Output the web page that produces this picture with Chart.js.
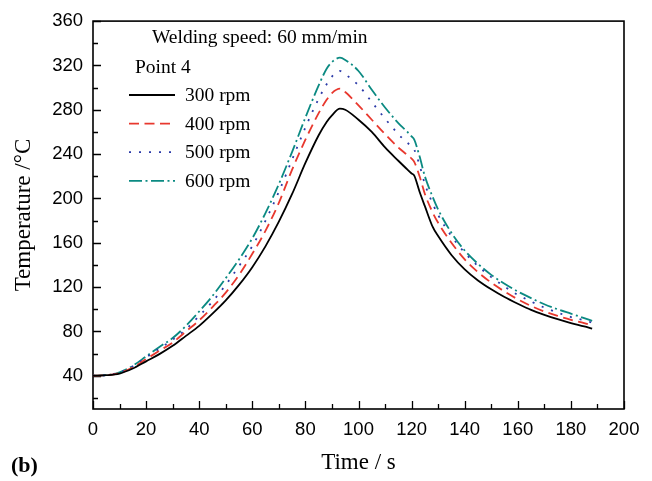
<!DOCTYPE html>
<html>
<head>
<meta charset="utf-8">
<title>Temperature vs time, point 4</title>
<script src="https://cdn.jsdelivr.net/npm/chart.js@4/dist/chart.umd.min.js"></script>
<style>
  html, body { margin: 0; padding: 0; background: #fff; }
</style>
</head>
<body>
<canvas id="chart" width="652" height="481"></canvas>
<script>
// Time grid (s) shared by all four curves
const timeS = [0, 5, 10, 15, 20, 25, 30, 35, 40, 45, 50, 55, 60, 65, 70, 75, 80, 85, 88, 90,
  93, 95, 100, 105, 110, 115, 118, 120, 121, 123, 125, 128, 130, 135, 140, 145, 150, 155, 160, 165,
  170, 175, 180, 185, 188];

// Temperatures (°C)
const temp300 = [40, 40.5, 42, 46.5, 53, 59.5, 67, 76, 85, 96, 108, 122, 138, 157, 179, 204, 232, 257, 269, 275,
  281, 280, 271, 260, 246, 234, 227, 222.5, 220.5, 206, 193, 174, 166, 149, 136, 126, 118, 111, 105, 99.5,
  95, 91, 87.5, 84.5, 82.5];
const temp400 = [40, 40.5, 42.5, 47.5, 55, 62.5, 70, 80, 90, 102, 115, 131, 150, 171, 196, 226, 253, 277, 289, 295,
  299, 296, 284, 271, 258, 246, 240, 236, 233, 220, 204, 187, 178, 160, 145, 133.5, 124, 116, 109, 103,
  98, 94, 90.5, 87.5, 85.5];
const temp500 = [40, 40.5, 43, 48.5, 56.5, 64.5, 72.5, 82, 94, 107, 122, 139, 157, 180, 206, 235, 264, 290, 303, 310,
  315, 312, 302, 287, 272, 258, 251, 247, 244, 230, 213, 195, 185, 166, 151, 139, 129, 120.5, 113, 107,
  101.5, 97, 93, 90, 88];
const temp600 = [40, 40.5, 43, 49, 57.5, 66, 74, 85, 98, 112, 128, 145, 164, 187, 213, 242, 273, 302, 317, 323,
  327, 325, 315, 298, 282, 268, 261, 256, 253, 238, 220, 201, 190, 169, 153, 141, 131, 123, 116, 110,
  104.5, 100, 96, 92, 89.5];

const seriesLabels = ['300 rpm', '400 rpm', '500 rpm', '600 rpm'];

// Axis ticks
const xTicks = [0, 20, 40, 60, 80, 100, 120, 140, 160, 180, 200];
const xMinorTicks = [10, 30, 50, 70, 90, 110, 130, 150, 170, 190];
const yTicks = [40, 80, 120, 160, 200, 240, 280, 320, 360];
const yMinorTicks = [20, 60, 100, 140, 180, 220, 260, 300, 340];

const headerText = 'Welding speed: 60 mm/min';
const pointText = 'Point 4';

const SERIF = '"Liberation Serif", "Times New Roman", serif';
const SANS = '"Liberation Sans", Arial, sans-serif';

function toPoints(values) {
  return timeS.map((t, i) => ({ x: t, y: values[i] }));
}

const styles = [
  { color: '#000000', dash: [] },
  { color: '#e8382e', dash: [10, 5.5] },
  { color: '#2b3aa8', dash: [2, 8] },
  { color: '#0b8a82', dash: [13, 3.5, 2, 3.5] }
];

const datasets = [temp300, temp400, temp500, temp600].map((vals, i) => ({
  label: seriesLabels[i],
  data: toPoints(vals),
  borderColor: styles[i].color,
  borderDash: styles[i].dash,
  borderWidth: 1.8,
  pointRadius: 0,
  fill: false,
  tension: 0.4,
  cubicInterpolationMode: 'monotone'
}));

// Inward ticks and the closed frame
const frameTicks = {
  id: 'frameTicks',
  beforeDatasetsDraw(chart) {
    const { ctx, chartArea: a, scales: { x, y } } = chart;
    ctx.save();
    ctx.strokeStyle = '#000';
    ctx.lineWidth = 1.3;
    ctx.beginPath();
    xTicks.forEach(v => {
      const px = Math.round(x.getPixelForValue(v)) + 0.5;
      ctx.moveTo(px, a.bottom); ctx.lineTo(px, a.bottom - 8);
    });
    xMinorTicks.forEach(v => {
      const px = Math.round(x.getPixelForValue(v)) + 0.5;
      ctx.moveTo(px, a.bottom); ctx.lineTo(px, a.bottom - 5);
    });
    yTicks.forEach(v => {
      const py = Math.round(y.getPixelForValue(v)) + 0.5;
      ctx.moveTo(a.left, py); ctx.lineTo(a.left + 8, py);
    });
    yMinorTicks.forEach(v => {
      const py = Math.round(y.getPixelForValue(v)) + 0.5;
      ctx.moveTo(a.left, py); ctx.lineTo(a.left + 5, py);
    });
    ctx.stroke();
    ctx.lineWidth = 1.6;
    ctx.strokeRect(a.left, a.top, a.right - a.left, a.bottom - a.top);
    ctx.restore();
  }
};

// Header text, legend and panel label
const annotations = {
  id: 'annotations',
  afterDatasetsDraw(chart) {
    const { ctx } = chart;
    ctx.save();
    ctx.fillStyle = '#000';
    ctx.textBaseline = 'alphabetic';
    ctx.font = '19.5px ' + SERIF;
    ctx.fillText(headerText, 152, 43);
    ctx.fillText(pointText, 135, 73);

    chart.data.datasets.forEach((ds, i) => {
      const ly = 95 + i * 28.6;
      ctx.strokeStyle = ds.borderColor;
      ctx.lineWidth = ds.borderWidth;
      ctx.setLineDash(ds.borderDash);
      ctx.beginPath();
      ctx.moveTo(129, ly);
      ctx.lineTo(175, ly);
      ctx.stroke();
      ctx.setLineDash([]);
      ctx.fillText(ds.label, 185, ly + 6);
    });

    ctx.font = 'bold 22px ' + SERIF;
    ctx.fillText('(b)', 11, 472);
    ctx.restore();
  }
};

Chart.defaults.color = '#000';

new Chart(document.getElementById('chart'), {
  type: 'line',
  data: { datasets },
  options: {
    responsive: false,
    animation: false,
    layout: { padding: { left: 0, top: 17, right: 28, bottom: 0 } },
    plugins: {
      legend: { display: false },
      tooltip: { enabled: false }
    },
    scales: {
      x: {
        type: 'linear',
        min: 0,
        max: 200,
        afterBuildTicks: scale => { scale.ticks = xTicks.map(v => ({ value: v })); },
        afterFit: scale => { scale.height = 72; },
        grid: { display: false, drawTicks: false },
        border: { display: false },
        ticks: {
          autoSkip: false,
          maxRotation: 0,
          padding: 10,
          font: { family: SANS, size: 18.5 }
        },
        title: {
          display: true,
          text: 'Time / s',
          font: { family: SERIF, size: 23 },
          padding: { top: 0, bottom: 4 }
        }
      },
      y: {
        type: 'linear',
        min: 10,
        max: 360,
        afterBuildTicks: scale => { scale.ticks = yTicks.map(v => ({ value: v })); },
        afterFit: scale => { scale.width = 93; },
        grid: { display: false, drawTicks: false },
        border: { display: false },
        ticks: {
          autoSkip: false,
          padding: 10,
          font: { family: SANS, size: 18.5 }
        },
        title: {
          display: true,
          text: 'Temperature /°C',
          font: { family: SERIF, size: 23 },
          padding: { top: 10, bottom: 0 }
        }
      }
    }
  },
  plugins: [frameTicks, annotations]
});
</script>
</body>
</html>
